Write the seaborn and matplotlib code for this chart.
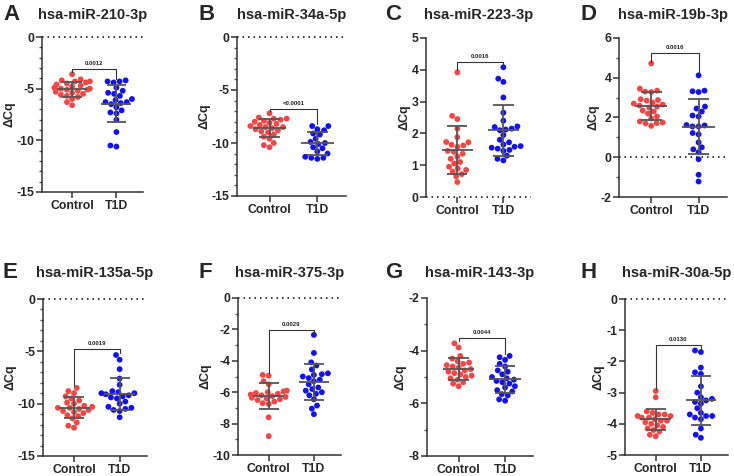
import numpy as np
import pandas as pd
import seaborn as sns
import matplotlib.pyplot as plt
from matplotlib.ticker import MultipleLocator

# panel text
panel_letters = ['A', 'B', 'C', 'D', 'E', 'F', 'G', 'H']
mirna_names = ['hsa-miR-210-3p', 'hsa-miR-34a-5p', 'hsa-miR-223-3p', 'hsa-miR-19b-3p',
               'hsa-miR-135a-5p', 'hsa-miR-375-3p', 'hsa-miR-143-3p', 'hsa-miR-30a-5p']
p_values = ['0.0012', '<0.0001', '0.0016', '0.0016', '0.0019', '0.0029', '0.0044', '0.0130']
groups = ['Control', 'T1D']

# delta Cq values
ctrl_A = [-3.6, -4.1, -4.2, -4.3, -4.3, -4.4, -4.5, -4.6, -4.7, -4.8, -4.9, -5.0, -5.0,
          -5.1, -5.1, -5.2, -5.3, -5.4, -5.5, -5.6, -5.7, -5.8, -6.0, -6.3, -6.6]
t1d_A = [-4.2, -4.3, -4.3, -4.4, -4.9, -5.2, -5.4, -5.5, -5.7, -6.0, -6.1, -6.3, -6.3,
         -6.4, -6.5, -6.8, -7.1, -7.3, -7.4, -8.0, -9.2, -10.5, -10.6]

ctrl_B = [-7.2, -7.6, -7.7, -7.7, -7.8, -7.9, -8.0, -8.1, -8.2, -8.3, -8.4, -8.5, -8.5,
          -8.6, -8.7, -8.8, -8.9, -9.0, -9.2, -9.4, -9.6, -10.0, -10.2, -10.4]
t1d_B = [-8.4, -8.4, -8.7, -8.8, -9.1, -9.2, -9.6, -9.9, -10.0, -10.1, -10.4, -10.5,
         -10.8, -11.0, -11.3, -11.4, -11.4, -11.5]

ctrl_C = [3.92, 2.55, 2.45, 2.15, 1.88, 1.73, 1.72, 1.64, 1.62, 1.58, 1.45, 1.42, 1.36,
          1.27, 1.2, 1.1, 1.05, 0.95, 0.9, 0.85, 0.8, 0.72, 0.65, 0.47]
t1d_C = [4.08, 3.72, 3.62, 3.13, 2.65, 2.4, 2.22, 2.2, 2.15, 2.12, 2.1, 1.95, 1.8, 1.72,
         1.65, 1.6, 1.58, 1.55, 1.52, 1.48, 1.45, 1.3, 1.2, 1.15]

ctrl_D = [4.72, 3.45, 3.35, 3.3, 3.28, 2.92, 2.88, 2.85, 2.75, 2.7, 2.65, 2.6, 2.55, 2.5,
          2.35, 2.3, 2.2, 2.05, 1.95, 1.8, 1.75, 1.72, 1.7, 1.58]
t1d_D = [4.12, 3.35, 3.32, 3.28, 2.55, 2.45, 2.3, 2.1, 2.05, 1.62, 1.6, 1.55, 1.55, 1.22,
         1.15, 0.75, 0.5, 0.4, 0.25, -0.1, -0.88, -1.22]

ctrl_E = [-8.5, -8.8, -9.0, -9.3, -9.5, -9.7, -9.9, -10.0, -10.2, -10.3, -10.4, -10.4,
          -10.5, -10.6, -10.7, -10.8, -10.9, -11.1, -11.2, -11.4, -11.8, -12.1, -12.3]
t1d_E = [-5.35, -5.8, -6.7, -7.6, -8.2, -8.8, -8.9, -9.0, -9.0, -9.1, -9.2, -9.3, -9.4,
         -9.5, -9.8, -10.0, -10.3, -10.4, -10.5, -10.6, -10.7, -11.3]

ctrl_F = [-4.9, -4.95, -5.3, -5.5, -5.9, -5.95, -6.0, -6.05, -6.1, -6.15, -6.2, -6.25,
          -6.3, -6.35, -6.4, -6.45, -6.5, -6.6, -6.7, -6.75, -7.6, -8.8]
t1d_F = [-2.35, -3.5, -4.1, -4.3, -4.55, -4.8, -4.85, -4.9, -5.0, -5.1, -5.2, -5.3, -5.5,
         -5.7, -5.8, -5.9, -6.0, -6.1, -6.2, -6.45, -6.85, -7.05, -7.4]

ctrl_G = [-3.72, -3.88, -4.2, -4.3, -4.4, -4.45, -4.5, -4.55, -4.6, -4.65, -4.7, -4.75,
          -4.8, -4.85, -4.9, -4.95, -5.0, -5.05, -5.1, -5.2, -5.25, -5.35]
t1d_G = [-4.2, -4.25, -4.35, -4.5, -4.6, -4.75, -4.8, -4.9, -5.0, -5.05, -5.1, -5.15,
         -5.2, -5.25, -5.35, -5.4, -5.5, -5.55, -5.65, -5.7, -5.85, -5.9]

ctrl_H = [-2.95, -3.15, -3.6, -3.65, -3.7, -3.7, -3.75, -3.75, -3.8, -3.8, -3.85, -3.9,
          -3.9, -3.95, -4.0, -4.05, -4.1, -4.15, -4.2, -4.25, -4.35, -4.4]
t1d_H = [-1.65, -1.7, -2.2, -2.35, -2.4, -2.8, -3.0, -3.15, -3.2, -3.25, -3.3, -3.35,
         -3.5, -3.65, -3.7, -3.75, -3.75, -3.8, -3.85, -4.15, -4.35, -4.45]

control_sets = [ctrl_A, ctrl_B, ctrl_C, ctrl_D, ctrl_E, ctrl_F, ctrl_G, ctrl_H]
t1d_sets = [t1d_A, t1d_B, t1d_C, t1d_D, t1d_E, t1d_F, t1d_G, t1d_H]

# axis settings
y_limits = [(-15, 0), (-15, 0), (0, 5), (-2, 6), (-15, 0), (-10, 0), (-8, -2), (-5, 0)]
major_steps = [5, 5, 1, 2, 5, 2, 2, 1]
minor_steps = [1, 1, None, 1, 1, 1, 1, None]

# layout in pixels: left, top, right, bottom
W, H = 734, 476
axes_px = [(42, 37, 143, 192), (237, 37, 346, 196), (426, 38, 531, 197), (619, 38, 727, 197),
           (43, 299, 147, 456), (238, 298, 341, 455), (427, 298, 533, 456), (625, 299, 728, 455)]
letter_x = [3, 199, 385, 580]
row_text_y = [15, 273]
bracket_gap = [0.035, 0.027, 0.034, 0.067, 0.039, 0.031, 0.035, 0.034]

red = '#F44545'
blue = '#1212EE'
bar_color = '#555555'

sns.set_theme(style='ticks')
plt.rcParams['font.family'] = ['Liberation Sans', 'DejaVu Sans']
plt.rcParams['axes.unicode_minus'] = False

fig = plt.figure(figsize=(W / 100, H / 100), dpi=100)

for i in range(8):
    l, t, r, b = axes_px[i]
    ax = fig.add_axes([l / W, 1 - b / H, (r - l) / W, (b - t) / H])

    ctrl = control_sets[i]
    t1d = t1d_sets[i]
    df = pd.DataFrame({'group': ['Control'] * len(ctrl) + ['T1D'] * len(t1d),
                       'dcq': ctrl + t1d})
    sns.swarmplot(data=df, x='group', y='dcq', hue='group', order=groups,
                  palette=[red, blue], size=4.2, ax=ax, legend=False, zorder=2)

    # mean +/- SD
    for k, vals in enumerate([ctrl, t1d]):
        m = np.mean(vals)
        s = np.std(vals, ddof=1)
        ax.hlines(m, k - 0.34, k + 0.34, color=bar_color, lw=1.3, zorder=4)
        ax.hlines([m - s, m + s], k - 0.22, k + 0.22, color=bar_color, lw=1.3, zorder=4)
        ax.vlines(k, m - s, m + s, color=bar_color, lw=1.3, zorder=4)

    lo, hi = y_limits[i]
    span = hi - lo

    # significance bracket
    top = max(max(ctrl), max(t1d)) + bracket_gap[i] * span
    ax.plot([0, 0, 1, 1], [max(ctrl) + 0.012 * span, top, top, max(t1d) + 0.012 * span],
            color='#333333', lw=0.8, zorder=3)
    ax.text(0.5, top + 0.02 * span, p_values[i], ha='center', va='bottom',
            fontsize=4.3, fontweight='bold', color='#222222')

    # dotted zero line
    if lo <= 0 <= hi:
        ax.axhline(0, color='black', ls=(0, (1, 2.6)), lw=1.1, zorder=1, clip_on=False)
    if lo == 0:
        ax.spines['bottom'].set_visible(False)

    ax.set_xlim(-0.68, 1.6)
    ax.set_ylim(lo, hi)
    ax.yaxis.set_major_locator(MultipleLocator(major_steps[i]))
    if minor_steps[i]:
        ax.yaxis.set_minor_locator(MultipleLocator(minor_steps[i]))

    for side in ['top', 'right']:
        ax.spines[side].set_visible(False)
    for side in ['left', 'bottom']:
        ax.spines[side].set_linewidth(1.1)
        ax.spines[side].set_color('#333333')
    ax.tick_params(axis='both', which='major', length=4, width=1.1, color='#333333',
                   labelsize=8.8, pad=1.5)
    ax.tick_params(axis='y', which='minor', length=2.5, width=1.0, color='#555555')
    for lab in ax.get_xticklabels() + ax.get_yticklabels():
        lab.set_fontweight('bold')
    ax.set_xlabel('')
    ax.set_ylabel('ΔCq', fontsize=9, fontweight='bold', labelpad=1)

    # panel letter and title
    row = i // 4
    ty = 1 - row_text_y[row] / H
    fig.text(letter_x[i % 4] / W, ty, panel_letters[i], fontsize=16, fontweight='bold',
             ha='left', va='center')
    fig.text((l + r) / 2 / W, ty, mirna_names[i], fontsize=10.5, fontweight='bold',
             ha='center', va='center')

fig.savefig('out.png', dpi=100)
